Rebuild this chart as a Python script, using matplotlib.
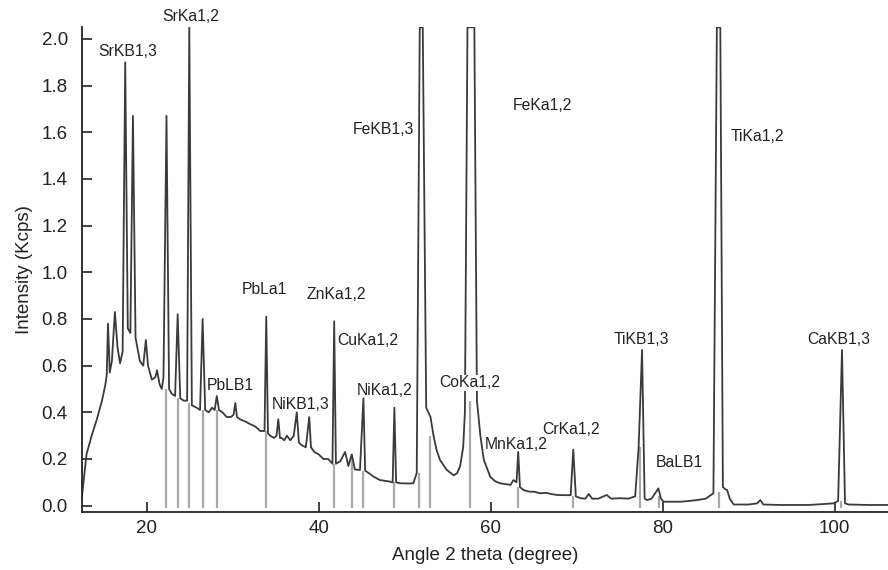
import matplotlib
matplotlib.use("Agg")
import matplotlib.pyplot as plt

plt.rcParams['font.family'] = ['Liberation Sans', 'DejaVu Sans']

# spectrum trace (angle 2 theta, Kcps)
angle = [12.44, 12.7, 13.0, 13.6, 14.2, 14.8, 15.2, 15.35, 15.5, 15.7, 15.95, 16.3, 16.6, 16.9,
         17.2, 17.5, 17.8, 18.1, 18.4, 18.7, 19.2, 19.6, 19.9, 20.15, 20.6, 21.0, 21.2, 21.5,
         21.75, 21.95, 22.3, 22.6, 22.9, 23.3, 23.6, 23.9, 24.3, 24.7, 24.95, 25.25, 25.8, 26.2,
         26.5, 26.8, 27.2, 27.6, 27.9, 28.15, 28.4, 28.8, 29.3, 29.8, 30.1, 30.3, 30.5, 30.85,
         31.5, 32.0, 32.6, 33.2, 33.7, 33.9, 34.1, 34.35, 34.8, 35.1, 35.3, 35.5, 35.7, 36.0,
         36.3, 36.7, 37.1, 37.45, 37.7, 38.0, 38.5, 38.9, 39.1, 39.5, 40.0, 40.55, 41.1, 41.6,
         41.8, 42.0, 42.5, 43.07, 43.45, 43.85, 44.2, 44.8, 45.2, 45.4, 45.8, 46.4, 47.1, 48.3,
         48.6, 48.8, 49.0, 49.5, 50.5, 51.0, 51.4, 51.75, 52.1, 52.5, 53.0, 53.35, 53.7, 54.1,
         54.9, 55.7, 56.1, 56.45, 56.8, 57.0, 57.3, 58.1, 58.4, 58.8, 59.2, 59.95, 60.5, 61.1,
         62.3, 62.65, 63.0, 63.2, 63.4, 63.8, 64.5, 65.0, 65.75, 66.5, 67.0, 67.7, 68.5, 69.3,
         69.6, 69.9, 70.45, 71.0, 71.4, 71.8, 72.5, 73.5, 74.0, 75.1, 76.0, 76.8, 77.2, 77.6,
         77.9, 78.2, 78.7, 79.5, 79.8, 80.1, 81.0, 82.1, 83.0, 84.0, 85.0, 85.9, 86.3, 86.7,
         87.0, 87.3, 87.5, 87.8, 88.25, 90.0, 91.0, 91.35, 91.7, 93.7, 97.0, 99.9, 100.4, 100.85,
         101.2, 101.6, 104.0, 106.2]
intensity = [0.03, 0.12, 0.22, 0.30, 0.37, 0.45, 0.52, 0.56, 0.78, 0.57, 0.62, 0.83, 0.68, 0.61,
             0.66, 1.90, 0.76, 0.74, 1.67, 0.72, 0.62, 0.60, 0.71, 0.60, 0.54, 0.55, 0.58, 0.52,
             0.50, 0.55, 1.67, 0.50, 0.48, 0.47, 0.82, 0.46, 0.45, 0.45, 2.05, 0.43, 0.42, 0.41,
             0.80, 0.41, 0.40, 0.42, 0.41, 0.47, 0.41, 0.40, 0.38, 0.38, 0.39, 0.44, 0.38, 0.37,
             0.36, 0.35, 0.34, 0.32, 0.32, 0.81, 0.31, 0.30, 0.29, 0.30, 0.37, 0.29, 0.29, 0.28,
             0.30, 0.28, 0.30, 0.40, 0.27, 0.26, 0.25, 0.38, 0.25, 0.23, 0.22, 0.20, 0.20, 0.18,
             0.79, 0.18, 0.19, 0.23, 0.17, 0.22, 0.155, 0.153, 0.46, 0.15, 0.14, 0.124, 0.11, 0.103,
             0.10, 0.42, 0.10, 0.096, 0.095, 0.096, 0.14, 2.05, 2.05, 0.42, 0.38, 0.30, 0.24, 0.196,
             0.153, 0.13, 0.14, 0.17, 0.25, 0.40, 2.05, 2.05, 0.45, 0.30, 0.196, 0.124, 0.105, 0.096,
             0.089, 0.11, 0.10, 0.23, 0.08, 0.067, 0.06, 0.06, 0.053, 0.055, 0.05, 0.046, 0.045, 0.045,
             0.24, 0.04, 0.032, 0.03, 0.05, 0.03, 0.03, 0.046, 0.03, 0.032, 0.03, 0.04, 0.25, 0.667,
             0.03, 0.024, 0.03, 0.074, 0.03, 0.017, 0.017, 0.017, 0.02, 0.024, 0.03, 0.053, 2.05, 2.05,
             0.08, 0.07, 0.067, 0.03, 0.005, 0.005, 0.01, 0.024, 0.005, 0.003, 0.003, 0.01, 0.02, 0.667,
             0.01, 0.005, 0.003, 0.003]

# grey drop lines under identified peaks
marker_x = [22.3, 23.6, 24.95, 26.5, 28.15, 33.9, 41.8, 43.85, 45.2, 48.8, 51.7, 53.0,
            57.6, 63.2, 69.6, 77.4, 79.6, 86.5, 100.7]
marker_top = [0.50, 0.46, 0.44, 0.41, 0.41, 0.32, 0.18, 0.20, 0.15, 0.10, 0.14, 0.30,
              0.45, 0.08, 0.04, 0.25, 0.04, 0.06, 0.02]

# peak labels
labels = ['SrKB1,3', 'SrKa1,2', 'PbLa1', 'ZnKa1,2', 'CuKa1,2', 'PbLB1', 'NiKB1,3', 'NiKa1,2',
          'CoKa1,2', 'MnKa1,2', 'CrKa1,2', 'TiKB1,3', 'BaLB1', 'CaKB1,3', 'FeKB1,3', 'FeKa1,2',
          'TiKa1,2']
label_x = [14.37, 21.75, 31.05, 38.53, 42.18, 26.98, 34.54, 44.43, 54.04, 59.36, 65.96,
           74.29, 79.25, 96.79, 43.97, 62.58, 87.87]
label_y = [1.944, 2.096, 0.927, 0.907, 0.706, 0.513, 0.432, 0.492, 0.527, 0.264, 0.327,
           0.71, 0.184, 0.71, 1.61, 1.713, 1.581]

x_ticks = [20, 40, 60, 80, 100]
y_ticks = [0.0, 0.2, 0.4, 0.6, 0.8, 1.0, 1.2, 1.4, 1.6, 1.8, 2.0]

fig = plt.figure(figsize=(8.88, 5.70), dpi=100)
ax = fig.add_axes([0.092, 0.1018, 0.908, 0.8508])

ax.vlines(marker_x, -0.012, marker_top, color='#a8a8a8', lw=1.6, zorder=1)
ax.plot(angle, intensity, color='#3a3a3a', lw=1.3, zorder=2)

for t, x, y in zip(labels, label_x, label_y):
    kw = {}
    if t == 'CoKa1,2':
        kw['bbox'] = dict(facecolor='white', edgecolor='none', pad=0.5)
    ax.text(x, y, t, ha='left', va='center', fontsize=11.3, color='#222222', zorder=3, **kw)

ax.set_xlim(12.44, 106.2)
ax.set_ylim(-0.027, 2.051)
ax.set_xticks(x_ticks)
ax.set_yticks(y_ticks)
ax.set_yticklabels([f'{v:.1f}' for v in y_ticks])

for side in ['top', 'right']:
    ax.spines[side].set_visible(False)
for side in ['left', 'bottom']:
    ax.spines[side].set_linewidth(1.3)
    ax.spines[side].set_color('#222222')

ax.tick_params(axis='both', direction='in', length=7, width=1.2, colors='#222222',
               labelsize=13.5, labelcolor='#222222')
ax.tick_params(axis='x', pad=6)
ax.tick_params(axis='y', pad=10)

ax.set_xlabel('Angle 2 theta (degree)', fontsize=13.5, color='#222222', labelpad=7)
ax.set_ylabel('Intensity (Kcps)', fontsize=13.5, color='#222222', labelpad=6)

fig.savefig('out.png', dpi=100)
